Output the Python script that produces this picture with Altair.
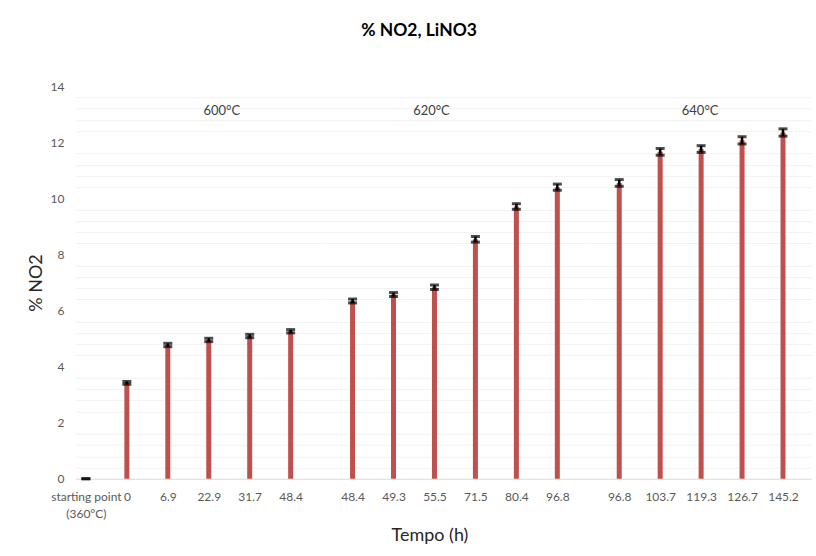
import altair as alt
import pandas as pd

# ---- data ----
labels = ["starting point (360°C)", "0", "6.9", "22.9", "31.7", "48.4",
          "48.4", "49.3", "55.5", "71.5", "80.4", "96.8",
          "96.8", "103.7", "119.3", "126.7", "145.2"]
values = [0.0, 3.42, 4.77, 4.95, 5.09, 5.26,
          6.34, 6.57, 6.83, 8.54, 9.71, 10.40,
          10.55, 11.66, 11.76, 12.07, 12.35]
errors = [0.0, 0.05, 0.06, 0.06, 0.06, 0.06,
          0.07, 0.07, 0.08, 0.10, 0.10, 0.11,
          0.12, 0.12, 0.12, 0.13, 0.13]
groups = ["600°C"] * 6 + ["620°C"] * 6 + ["640°C"] * 5
temps = ["600°C", "620°C", "640°C"]
temp_anchor = ["22.9", "55.5", "119.3"]
temp_level = [13.1, 13.1, 13.1]
major_ticks = [0, 2, 4, 6, 8, 10, 12, 14]
minor_ticks = [0.4, 0.8, 1.2, 1.6, 2.4, 2.8, 3.2, 3.6, 4.4, 4.8, 5.2, 5.6,
               6.4, 6.8, 7.2, 7.6, 8.4, 8.8, 9.2, 9.6, 10.4, 10.8, 11.2, 11.6,
               12.4, 12.8, 13.2, 13.6]

df = pd.DataFrame({"label": labels, "value": values, "err": errors, "group": groups})
df["lo"] = df["value"] - df["err"]
df["hi"] = df["value"] + df["err"]
ann = pd.DataFrame({"temp": temps, "anchor": temp_anchor, "level": temp_level})

FONT = "Lato"
RED = "#C0504D"
H = 393

# panel layout settings (width, point padding, align, annotation dx)
layout = {
    "600°C": dict(width=246, pad=0.5, align=0.244, dx=13),
    "620°C": dict(width=267, pad=0.756, align=0.5, dx=-3),
    "640°C": dict(width=223, pad=0.72, align=0.525, dx=-1),
}


def panel(g, first, middle):
    cfg = layout[g]
    sub = df[df["group"] == g]
    dom = list(sub["label"])
    xscale = alt.Scale(type="point", domain=dom, padding=cfg["pad"], align=cfg["align"])
    xaxis_kw = dict(
        labelExpr="datum.label == 'starting point (360°C)' ? ['starting point', '(360°C)'] : datum.label",
        labelAngle=0, labelFont=FONT, labelFontSize=12, labelColor="#595959",
        labelPadding=13, labelLineHeight=17, labelOverlap=False, labelBound=False,
        ticks=False, domainColor="#d9d9d9", grid=False,
    )
    if middle:
        xaxis_kw.update(title="Tempo (h)", titleFont=FONT, titleFontSize=18,
                        titleFontWeight="normal", titleColor="#262626",
                        titleX=108, titleAnchor="start", titleAlign="center",
                        titlePadding=24)
    else:
        xaxis_kw.update(title=None)
    x = alt.X("label:N", sort=dom, scale=xscale, axis=alt.Axis(**xaxis_kw))
    if first:
        yaxis = alt.Axis(values=major_ticks, gridColor="#d9d9d9", domain=False, ticks=False,
                         labelOverlap=False, labelFont=FONT, labelFontSize=12,
                         labelColor="#595959", labelPadding=12, title="% NO2",
                         titleFont=FONT, titleFontSize=18, titleFontWeight="normal",
                         titleColor="#262626", titlePadding=5)
    else:
        yaxis = alt.Axis(values=major_ticks, gridColor="#d9d9d9", domain=False, ticks=False,
                         labels=False, title=None)
    minor_axis = alt.Axis(values=minor_ticks, gridColor="#f2f2f2", domain=False, ticks=False,
                          labels=False, title=None, orient="right")
    yscale = alt.Scale(domain=[0, 14], nice=False)
    base = alt.Chart(sub)
    grid_minor = base.mark_bar(size=5, color=RED, opacity=0).encode(
        x=x, y=alt.Y("value:Q", scale=yscale, axis=minor_axis))
    bars = base.mark_bar(size=5, color=RED).encode(
        x=x, y=alt.Y("value:Q", scale=yscale, axis=yaxis))
    rule = base.mark_rule(color="black", strokeWidth=2.5).encode(
        x=x, y=alt.Y("lo:Q", scale=yscale, axis=None), y2="hi:Q")
    cap_hi = base.mark_tick(color="black", thickness=3, size=9).encode(
        x=x, y=alt.Y("hi:Q", scale=yscale, axis=None))
    cap_lo = base.mark_tick(color="black", thickness=3, size=9).encode(
        x=x, y=alt.Y("lo:Q", scale=yscale, axis=None))
    txt = alt.Chart(ann[ann["temp"] == g]).mark_text(
        font=FONT, fontSize=13, color="#404040", dx=cfg["dx"]).encode(
        x=alt.X("anchor:N", scale=xscale),
        y=alt.Y("level:Q", scale=yscale, axis=None),
        text="temp:N")
    return (alt.layer(grid_minor, bars, rule, cap_hi, cap_lo, txt)
            .resolve_axis(y="independent")
            .properties(width=cfg["width"], height=H))


chart = alt.hconcat(
    panel("600°C", True, False),
    panel("620°C", False, True),
    panel("640°C", False, False),
    spacing=0, bounds="flush",
).properties(
    title=alt.Title("% NO2, LiNO3", font=FONT, fontSize=17.5, fontWeight="bold",
                    color="#000000", anchor="middle", offset=41),
    padding={"left": 27, "top": 21, "right": 5, "bottom": 5},
    background="white",
).configure_view(stroke=None)

chart.save("out.html", embed_options={"renderer": "svg", "actions": False})
